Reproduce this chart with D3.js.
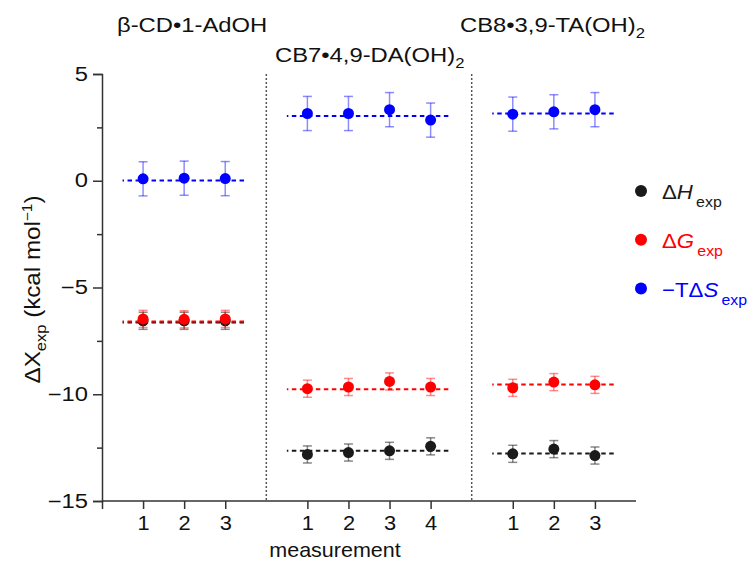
<!DOCTYPE html>
<html>
<head>
<meta charset="utf-8">
<script src="https://cdn.jsdelivr.net/npm/d3@7/dist/d3.min.js"></script>
<style>
  html, body { margin: 0; padding: 0; background: #fff; }
  svg { display: block; font-family: "Liberation Sans", Arial, sans-serif; }
</style>
</head>
<body>
<svg id="chart" width="754" height="572"></svg>
<script>
// Host–guest systems, each with its own block of measurements
const systems = [
  { main: "β-CD•1-AdOH", sub: "" },
  { main: "CB7•4,9-DA(OH)", sub: "2" },
  { main: "CB8•3,9-TA(OH)", sub: "2" }
];
// x position of every measurement on the shared axis
const measurementPos = [[1, 2, 3], [5, 6, 7, 8], [10, 11, 12]];
const measurementLabels = [["1", "2", "3"], ["1", "2", "3", "4"], ["1", "2", "3"]];
const dividerPos = [4, 9];

// Measured values (kcal/mol), in the order of measurementPos
const dH  = [-6.56, -6.56, -6.56, -12.82, -12.73, -12.65, -12.44, -12.79, -12.57, -12.87];
const dG  = [-6.47, -6.49, -6.47, -9.74, -9.66, -9.40, -9.66, -9.70, -9.43, -9.56];
const TdS = [0.09, 0.12, 0.10, 3.15, 3.15, 3.33, 2.84, 3.12, 3.23, 3.33];
// Standard errors
const dHErr  = [0.4, 0.4, 0.4, 0.4, 0.4, 0.4, 0.4, 0.4, 0.4, 0.4];
const dGErr  = [0.4, 0.4, 0.4, 0.4, 0.4, 0.4, 0.4, 0.4, 0.4, 0.4];
const TdSErr = [0.8, 0.8, 0.8, 0.8, 0.8, 0.8, 0.8, 0.8, 0.8, 0.8];
// Reference values per system (dashed lines)
const dHRef  = [-6.64, -12.65, -12.77];
const dGRef  = [-6.59, -9.77, -9.54];
const TdSRef = [0.01, 3.03, 3.15];

const yTicks = [-15, -10, -5, 0, 5];
const yMinorTicks = [-12.5, -7.5, -2.5, 2.5];

const series = [
  { sym: "H", pre: "Δ", values: dH, err: dHErr, ref: dHRef, color: "#1a1a1a", errColor: "rgba(40,40,40,0.55)" },
  { sym: "G", pre: "Δ", values: dG, err: dGErr, ref: dGRef, color: "#ff0000", errColor: "rgba(255,0,0,0.45)" },
  { sym: "S", pre: "−TΔ", values: TdS, err: TdSErr, ref: TdSRef, color: "#0000ff", errColor: "rgba(0,0,255,0.45)" }
];

// Wide glyph proportions: stretch a text element horizontally about (ax, ay)
function stretch(sel, sx, ax, ay) {
  sel.attr("transform", `translate(${ax},${ay}) scale(${sx},1) translate(${-ax},${-ay})`);
}

const svg = d3.select("#chart");
const x = d3.scaleLinear().domain([0, 13]).range([102, 636]);
const y = d3.scaleLinear().domain([-15, 5]).range([501, 74]);

const flatPos = measurementPos.flat();
const flatLabels = measurementLabels.flat();

// Divider lines between systems
svg.append("g").selectAll("line").data(dividerPos).join("line")
  .attr("x1", d => x(d)).attr("x2", d => x(d))
  .attr("y1", y(5)).attr("y2", y(-15))
  .attr("stroke", "#555").attr("stroke-width", 1.5)
  .attr("stroke-dasharray", "2,2");

// Y axis
const yAxis = svg.append("g").attr("transform", `translate(${x(0)},0)`)
  .call(d3.axisLeft(y).tickValues(yTicks).tickSize(9).tickPadding(5).tickFormat(d3.format("d")));
svg.append("g").attr("transform", `translate(${x(0)},0)`)
  .call(d3.axisLeft(y).tickValues(yMinorTicks).tickSize(5).tickFormat(""))
  .call(g => g.select(".domain").remove());

// X axis
const xAxis = svg.append("g").attr("transform", `translate(0,${y(-15)})`)
  .call(d3.axisBottom(x).tickValues([0].concat(flatPos)).tickSize(8).tickPadding(7)
    .tickFormat(d => { const i = flatPos.indexOf(d); return i < 0 ? "" : flatLabels[i]; }));

svg.selectAll(".domain, .tick line").attr("stroke", "#333").attr("stroke-width", 1.5);
svg.selectAll(".tick text").attr("font-size", 19.5).attr("fill", "#111")
  .attr("font-family", "Liberation Sans, Arial, sans-serif");
yAxis.selectAll(".tick text").each(function () {
  stretch(d3.select(this), 1.22, -14, 0);
});
xAxis.selectAll(".tick text").each(function () {
  stretch(d3.select(this), 1.12, 0, 0);
});
xAxis.selectAll(".domain").attr("d", `M${x(0)},0H${x(13)}`);

// Axis titles
const xLab = svg.append("text").attr("x", 335).attr("y", 557).attr("text-anchor", "middle")
  .attr("font-size", 20.5).attr("fill", "#111").text("measurement");
stretch(xLab, 1.05, 335, 557);

const yMid = (y(5) + y(-15)) / 2 + 2;
const yLab = svg.append("text")
  .attr("transform", `translate(40,${yMid}) rotate(-90) scale(1.1,1)`)
  .attr("text-anchor", "middle").attr("font-size", 22).attr("fill", "#111");
yLab.append("tspan").text("ΔX");
yLab.append("tspan").attr("font-size", 15).attr("dy", 6).text("exp");
yLab.append("tspan").attr("dy", -6).text(" (kcal mol");
yLab.append("tspan").attr("font-size", 14).attr("dy", -8).text("−1");
yLab.append("tspan").attr("dy", 8).text(")");

// System titles
const titlePos = [{ x: 117, y: 32 }, { x: 275, y: 62 }, { x: 460, y: 32 }];
systems.forEach((s, i) => {
  const t = svg.append("text").attr("x", titlePos[i].x).attr("y", titlePos[i].y)
    .attr("text-anchor", "start").attr("font-size", 20).attr("fill", "#111");
  t.append("tspan").text(s.main);
  if (s.sub) t.append("tspan").attr("font-size", 14).attr("dy", 6).text(s.sub);
  stretch(t, 1.19, titlePos[i].x, titlePos[i].y);
});

// Reference lines, error bars and points for each series
series.forEach(s => {
  const g = svg.append("g");
  g.selectAll("line.ref").data(s.ref).join("line").attr("class", "ref")
    .attr("x1", (d, i) => x(measurementPos[i][0] - 0.5))
    .attr("x2", (d, i) => x(measurementPos[i][measurementPos[i].length - 1] + 0.5))
    .attr("y1", d => y(d)).attr("y2", d => y(d))
    .attr("stroke", s.color).attr("stroke-width", 2)
    .attr("stroke-dasharray", "4.5,3.5").attr("stroke-dashoffset", 3);

  const pts = s.values.map((v, i) => ({ x: flatPos[i], v, e: s.err[i] }));
  const eb = g.append("g").attr("stroke", s.errColor).attr("stroke-width", 1.5);
  eb.selectAll("line.bar").data(pts).join("line").attr("class", "bar")
    .attr("x1", d => x(d.x)).attr("x2", d => x(d.x))
    .attr("y1", d => y(d.v - d.e)).attr("y2", d => y(d.v + d.e));
  eb.selectAll("line.capT").data(pts).join("line").attr("class", "capT")
    .attr("x1", d => x(d.x) - 4.5).attr("x2", d => x(d.x) + 4.5)
    .attr("y1", d => y(d.v + d.e)).attr("y2", d => y(d.v + d.e));
  eb.selectAll("line.capB").data(pts).join("line").attr("class", "capB")
    .attr("x1", d => x(d.x) - 4.5).attr("x2", d => x(d.x) + 4.5)
    .attr("y1", d => y(d.v - d.e)).attr("y2", d => y(d.v - d.e));

  g.selectAll("circle").data(pts).join("circle")
    .attr("cx", d => x(d.x)).attr("cy", d => y(d.v)).attr("r", 5.5)
    .attr("fill", s.color);
});

// Legend
const legend = svg.append("g");
series.forEach((s, i) => {
  const ly = 191 + i * 48.8;
  legend.append("circle").attr("cx", 641).attr("cy", ly).attr("r", 6).attr("fill", s.color);
  const t = legend.append("text").attr("x", 662).attr("y", ly + 8)
    .attr("font-size", 21).attr("fill", s.color);
  t.append("tspan").text(s.pre);
  t.append("tspan").attr("font-style", "italic").text(s.sym);
  t.append("tspan").attr("font-size", 15).attr("dx", 3).attr("dy", 8).text("exp");
  stretch(t, 1.06, 662, ly + 8);
});
</script>
</body>
</html>
